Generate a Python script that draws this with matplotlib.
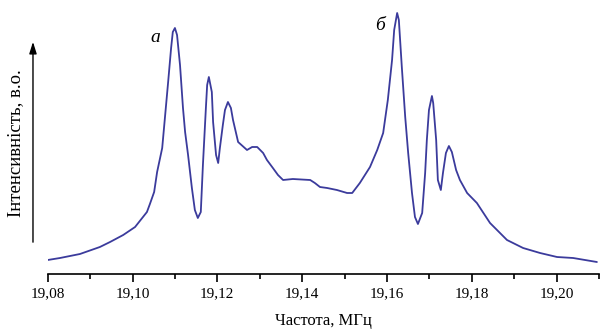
"""Spectrum of the two resonance lines (a, б) versus frequency."""
import matplotlib

matplotlib.use("Agg")

import matplotlib.pyplot as plt

# Frequency, MHz
FREQ = [
    19.0800, 19.0829, 19.0876, 19.0923, 19.0947, 19.0978, 19.1006, 19.1034,
    19.1041, 19.1051, 19.1058, 19.1070, 19.1077, 19.1084, 19.1091, 19.1095,
    19.1100, 19.1105, 19.1112, 19.1119, 19.1124, 19.1131, 19.1140, 19.1147,
    19.1154, 19.1161, 19.1166, 19.1173, 19.1176, 19.1180, 19.1187, 19.1190,
    19.1197, 19.1202, 19.1206, 19.1213, 19.1218, 19.1225, 19.1232, 19.1237,
    19.1249, 19.1270, 19.1282, 19.1294, 19.1308, 19.1317, 19.1331, 19.1343,
    19.1355, 19.1378, 19.1419, 19.1430, 19.1442, 19.1459, 19.1482, 19.1506,
    19.1518, 19.1536, 19.1560, 19.1577, 19.1591, 19.1602, 19.1612, 19.1617,
    19.1624, 19.1628, 19.1635, 19.1643, 19.1650, 19.1659, 19.1666, 19.1673,
    19.1683, 19.1690, 19.1694, 19.1699, 19.1706, 19.1709, 19.1716, 19.1720,
    19.1727, 19.1732, 19.1739, 19.1746, 19.1753, 19.1763, 19.1772, 19.1789,
    19.1812, 19.1843, 19.1883, 19.1921, 19.1961, 19.2001, 19.2039, 19.2095,
]

# Intensity, arbitrary units
INTENSITY = [
    14, 16, 20, 27, 32, 39, 47, 62,
    70, 82, 102, 126, 159, 192, 226, 242,
    246, 239, 209, 166, 142, 119, 86, 64,
    56, 62, 109, 166, 189, 197, 182, 152,
    119, 111, 126, 149, 164, 172, 166, 154,
    132, 124, 127, 127, 121, 114, 106, 99,
    94, 95, 94, 91, 87, 86, 84, 81,
    81, 91, 107, 124, 141, 174, 214, 244,
    261, 254, 207, 157, 121, 81, 57, 50,
    61, 101, 134, 164, 178, 171, 134, 94,
    84, 101, 121, 128, 122, 104, 94, 81,
    71, 51, 34, 26, 21, 17, 16, 12,
]

MAJOR_TICKS = [19.08, 19.10, 19.12, 19.14, 19.16, 19.18, 19.20]
MAJOR_LABELS = ["19,08", "19,10", "19,12", "19,14", "19,16", "19,18", "19,20"]
MINOR_TICKS = [19.09, 19.11, 19.13, 19.15, 19.17, 19.19, 19.21]

PEAK_LABELS = ["а", "б"]
PEAK_LABEL_X = [19.1053, 19.1584]
PEAK_LABEL_Y = [237, 249]

LINE_COLOR = "#3b3b9c"


def main() -> None:
    plt.rcParams["font.family"] = ["Liberation Serif", "DejaVu Serif"]
    fig = plt.figure(figsize=(6.03, 3.31), dpi=100)
    ax = fig.add_axes([0.0791, 0.1722, 0.9143, 0.8278])

    ax.plot(FREQ, INTENSITY, color=LINE_COLOR, linewidth=1.3,
            solid_joinstyle="round", solid_capstyle="round")

    for label, x, y in zip(PEAK_LABELS, PEAK_LABEL_X, PEAK_LABEL_Y):
        ax.text(x, y, label, fontsize=14, fontstyle="italic", ha="center", va="center")

    ax.set_xlim(19.08, 19.21)
    ax.set_ylim(0, 274)
    for side in ("left", "top", "right"):
        ax.spines[side].set_visible(False)
    ax.spines["bottom"].set_linewidth(1.2)
    ax.set_yticks([])

    ax.set_xticks(MAJOR_TICKS)
    ax.set_xticklabels(MAJOR_LABELS, fontsize=11)
    ax.set_xticks(MINOR_TICKS, minor=True)
    ax.tick_params(axis="x", which="major", length=6, width=1.2, pad=3.5)
    ax.tick_params(axis="x", which="minor", length=3.6, width=1.2)
    ax.set_xlabel("Частота, МГц", fontsize=12, labelpad=9)

    # vertical arrow standing in for the intensity axis
    ax.annotate(
        "",
        xy=(0.0547, 0.882),
        xytext=(0.0547, 0.260),
        xycoords="figure fraction",
        textcoords="figure fraction",
        arrowprops=dict(arrowstyle="-|>,head_length=0.7,head_width=0.22",
                        color="black", linewidth=1.0, mutation_scale=10),
    )
    fig.text(0.026, 0.568, "Інтенсивність, в.о.", rotation=90, fontsize=13.5,
             ha="center", va="center")

    fig.savefig("out.png", dpi=100)
    plt.close(fig)


if __name__ == "__main__":
    main()
